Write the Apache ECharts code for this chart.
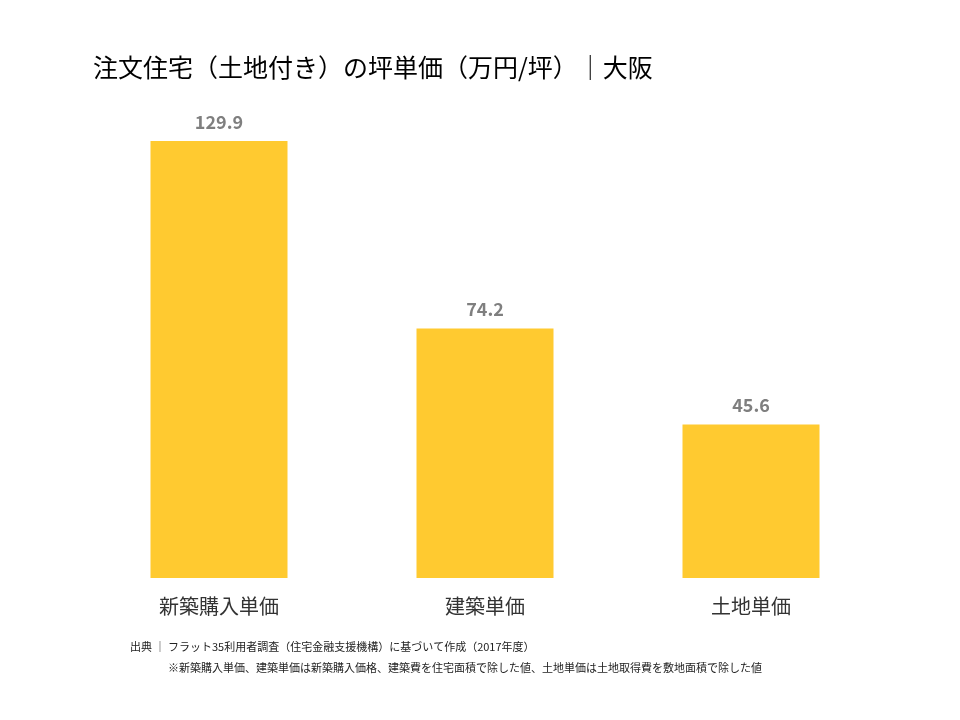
<!DOCTYPE html>
<html><head><meta charset="utf-8">
<script src="https://cdn.jsdelivr.net/npm/echarts@6/dist/echarts.min.js"></script>
<style>body{margin:0}#c{width:960px;height:720px}</style></head>
<body><div id="c"></div>
<script>
const categories = ['新築購入単価', '建築単価', '土地単価'];
const values = [129.9, 74.2, 45.6];
const font = '"Noto Sans CJK JP", sans-serif';
const chart = echarts.init(document.getElementById('c'));
chart.setOption({
  backgroundColor: '#fff',
  title: { text: '注文住宅（土地付き）の坪単価（万円/坪）｜大阪', left: 88, top: 50,
    textStyle: { fontFamily: font, fontSize: 25, fontWeight: 'normal', color: '#000' } },
  graphic: [
    { type: 'text', left: 130, top: 641, style: { text: '出典 ｜ フラット35利用者調査（住宅金融支援機構）に基づいて作成（2017年度）', font: '11px "Noto Sans CJK JP"', fill: '#222' } },
    { type: 'text', left: 168, top: 662, style: { text: '※新築購入単価、建築単価は新築購入価格、建築費を住宅面積で除した値、土地単価は土地取得費を敷地面積で除した値', font: '11px "Noto Sans CJK JP"', fill: '#222' } }
  ],
  grid: { left: 86, right: 76, top: 141, bottom: 142 },
  xAxis: { type: 'category', data: categories, axisLine: { show: false }, axisTick: { show: false },
    axisLabel: { fontFamily: font, fontSize: 20, color: '#333', margin: 18 } },
  yAxis: { type: 'value', min: 0, max: 129.9, show: false, splitLine: { show: false } },
  series: [{ type: 'bar', data: values, barWidth: 137, itemStyle: { color: '#FFCA30' },
    label: { show: true, position: 'top', distance: 10, fontFamily: font, fontSize: 18, fontWeight: 'bold', color: '#7f7f7f' } }]
});
</script></body></html>
